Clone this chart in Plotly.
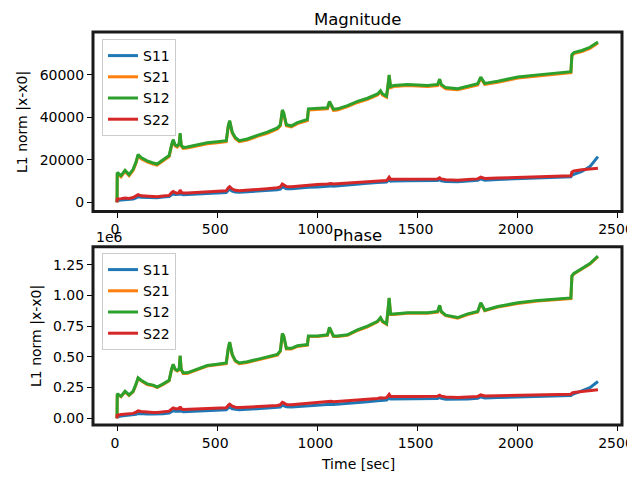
import plotly.graph_objects as go

# ---------------- data ----------------
time_sec = [0, 1, 20, 40, 60, 80, 95, 105, 120, 150, 180, 200, 230, 260, 272, 280, 290, 300, 310, 315,
            320, 330, 350, 400, 450, 500, 545, 555, 562, 575, 590, 610, 650, 700, 750, 800, 815, 825, 832, 845,
            870, 900, 950, 955, 1000, 1050, 1060, 1068, 1080, 1100, 1150, 1200, 1250, 1300, 1315, 1325, 1345, 1352, 1358, 1365,
            1380, 1450, 1500, 1550, 1600, 1610, 1618, 1640, 1700, 1750, 1800, 1815, 1822, 1835, 1900, 2000, 2100, 2200, 2265, 2270,
            2280, 2320, 2360, 2400]

mag_s11 = [0, 800, 1000, 1200, 1300, 1500, 2000, 2600, 2300, 2200, 2100, 2100, 2400, 2700, 3500, 3900, 3600, 3500, 3700, 4500,
           3800, 3500, 3600, 3900, 4200, 4400, 4600, 5600, 6000, 5200, 4800, 4700, 4900, 5200, 5600, 5900, 6200, 7300, 7000, 6400,
           6300, 6600, 6900, 7100, 7200, 7600, 7900, 7700, 7500, 7700, 8100, 8500, 8900, 9300, 9500, 9400, 9500, 10000, 10600, 9900,
           10000, 10100, 10100, 10100, 10200, 10600, 10100, 9800, 9700, 10000, 10300, 11000, 10700, 10400, 10700, 11000, 11400, 11800, 12000, 12800,
           13200, 14500, 16800, 21500]

mag_s21 = [0, 13500, 12000, 14500, 12500, 15000, 18500, 22000, 20500, 19000, 18000, 17500, 19500, 21500, 26500, 29000, 26500, 26000, 27000, 32000,
           26500, 25300, 25500, 26500, 27500, 28000, 28500, 35500, 38000, 32500, 30000, 28500, 29300, 31000, 32500, 34500, 36000, 43000, 41500, 36000,
           35500, 37000, 38500, 43500, 43700, 44000, 47000, 45500, 43300, 43500, 45000, 47000, 48500, 50500, 52000, 50500, 49500, 54500, 59500, 54000,
           54500, 55000, 54700, 54500, 55000, 57500, 55000, 53500, 53000, 54000, 55300, 58500, 57500, 55500, 56500, 58500, 59500, 60500, 61000, 69000,
           70000, 71000, 72500, 75000]

mag_s12 = [0, 14000, 12500, 15000, 13000, 15500, 19000, 22500, 21000, 19500, 18500, 18000, 20000, 22000, 27000, 29500, 27000, 26500, 27500, 32500,
           27000, 25800, 26000, 27000, 28000, 28500, 29000, 36000, 38500, 33000, 30500, 29000, 29800, 31500, 33000, 35000, 36500, 43500, 42000, 36500,
           36000, 37500, 39000, 44000, 44200, 44500, 47500, 46000, 43800, 44000, 45500, 47500, 49000, 51000, 52500, 51000, 50000, 55000, 60000, 54500,
           55000, 55500, 55200, 55000, 55500, 58000, 55500, 54000, 53500, 54500, 55800, 59000, 58000, 56000, 57000, 59000, 60000, 61000, 61500, 69500,
           70500, 71500, 73000, 75500]

mag_s22 = [0, 1500, 1700, 2000, 1800, 2200, 3000, 3600, 3000, 2800, 2600, 2600, 2900, 3200, 4500, 5000, 4500, 4300, 4500, 5800,
           4700, 4300, 4400, 4700, 5000, 5200, 5400, 6800, 7300, 6200, 5600, 5400, 5600, 6000, 6400, 6800, 7200, 8600, 8300, 7400,
           7300, 7600, 7900, 8200, 8300, 8600, 8900, 8800, 8600, 8700, 9000, 9300, 9600, 9900, 10100, 10000, 10200, 11000, 11800, 10800,
           10800, 10900, 10900, 10900, 11000, 11500, 11000, 10600, 10400, 10700, 11000, 11800, 11500, 11200, 11400, 11700, 12000, 12300, 12500, 14200,
           14700, 15300, 15800, 16000]

# phase values in units of 1e6
ph_s11 = [0, 0.012, 0.018, 0.022, 0.024, 0.027, 0.033, 0.04, 0.037, 0.035, 0.034, 0.034, 0.038, 0.043, 0.055, 0.062, 0.057, 0.055, 0.058, 0.07,
          0.058, 0.054, 0.055, 0.059, 0.063, 0.066, 0.069, 0.085, 0.092, 0.078, 0.072, 0.07, 0.073, 0.077, 0.082, 0.087, 0.091, 0.108, 0.103, 0.093,
          0.092, 0.096, 0.1, 0.103, 0.106, 0.112, 0.117, 0.114, 0.112, 0.114, 0.12, 0.127, 0.134, 0.142, 0.146, 0.145, 0.148, 0.158, 0.17, 0.157,
          0.157, 0.159, 0.16, 0.16, 0.162, 0.17, 0.162, 0.156, 0.154, 0.158, 0.163, 0.174, 0.17, 0.166, 0.169, 0.173, 0.178, 0.183, 0.186, 0.192,
          0.198, 0.22, 0.25, 0.30]

ph_s21 = [0, 0.195, 0.175, 0.215, 0.185, 0.215, 0.275, 0.325, 0.305, 0.275, 0.265, 0.25, 0.275, 0.305, 0.395, 0.435, 0.395, 0.385, 0.395, 0.505,
          0.395, 0.365, 0.365, 0.395, 0.425, 0.435, 0.445, 0.565, 0.615, 0.515, 0.465, 0.445, 0.455, 0.475, 0.495, 0.515, 0.545, 0.685, 0.665, 0.565,
          0.565, 0.585, 0.595, 0.665, 0.665, 0.675, 0.735, 0.705, 0.665, 0.665, 0.675, 0.715, 0.745, 0.785, 0.815, 0.785, 0.765, 0.875, 0.975, 0.845,
          0.845, 0.855, 0.855, 0.855, 0.865, 0.915, 0.865, 0.835, 0.815, 0.845, 0.865, 0.935, 0.915, 0.875, 0.905, 0.935, 0.955, 0.965, 0.975, 1.155,
          1.175, 1.215, 1.255, 1.315]

ph_s12 = [0, 0.2, 0.18, 0.22, 0.19, 0.22, 0.28, 0.33, 0.31, 0.28, 0.27, 0.255, 0.28, 0.31, 0.40, 0.44, 0.40, 0.39, 0.40, 0.51,
          0.40, 0.37, 0.37, 0.40, 0.43, 0.44, 0.45, 0.57, 0.62, 0.52, 0.47, 0.45, 0.46, 0.48, 0.50, 0.52, 0.55, 0.69, 0.67, 0.57,
          0.57, 0.59, 0.60, 0.67, 0.67, 0.68, 0.74, 0.71, 0.67, 0.67, 0.68, 0.72, 0.75, 0.79, 0.82, 0.79, 0.77, 0.88, 0.98, 0.85,
          0.85, 0.86, 0.86, 0.86, 0.87, 0.92, 0.87, 0.84, 0.82, 0.85, 0.87, 0.94, 0.92, 0.88, 0.91, 0.94, 0.96, 0.97, 0.98, 1.16,
          1.18, 1.22, 1.26, 1.32]

ph_s22 = [0, 0.025, 0.03, 0.035, 0.035, 0.04, 0.05, 0.06, 0.055, 0.05, 0.048, 0.048, 0.052, 0.058, 0.075, 0.085, 0.078, 0.075, 0.078, 0.095,
          0.078, 0.072, 0.073, 0.077, 0.08, 0.083, 0.086, 0.105, 0.115, 0.098, 0.09, 0.087, 0.09, 0.095, 0.1, 0.105, 0.11, 0.13, 0.125, 0.112,
          0.11, 0.115, 0.12, 0.125, 0.13, 0.135, 0.14, 0.138, 0.135, 0.137, 0.142, 0.148, 0.155, 0.162, 0.167, 0.165, 0.168, 0.18, 0.195, 0.178,
          0.177, 0.178, 0.178, 0.178, 0.18, 0.188, 0.18, 0.173, 0.17, 0.174, 0.178, 0.19, 0.186, 0.181, 0.183, 0.186, 0.189, 0.192, 0.195, 0.205,
          0.21, 0.218, 0.226, 0.232]

series_names = ["S11", "S21", "S12", "S22"]
series_colors = ["#1f77b4", "#ff7f0e", "#2ca02c", "#d62728"]
mag_series = [mag_s11, mag_s21, mag_s12, mag_s22]
ph_series = [ph_s11, ph_s21, ph_s12, ph_s22]

x_ticks = [0, 500, 1000, 1500, 2000, 2500]
mag_ticks = [0, 20000, 40000, 60000]
ph_ticks = [0.0, 0.25, 0.5, 0.75, 1.0, 1.25]

# ---------------- geometry ----------------
# the page body has an 8px margin, so the figure is placed at (8, 8) in the window
OFF = 8
VW, VH = 635, 477
W, H = VW - OFF, VH - OFF
AX_L, AX_R = 93, 622          # window pixel coords of axes frame
TOP_T, TOP_B = 32, 211.5
BOT_T, BOT_B = 246.7, 425
ML = AX_L - OFF
MR = VW - AX_R
MT = TOP_T - OFF
MB = VH - BOT_B
plot_w = W - ML - MR
plot_h = H - MT - MB


def xp(px):
    return (px - OFF - ML) / plot_w


def yp(py):
    return (H - MB - (py - OFF)) / plot_h


top_dom = [yp(TOP_B), 1.0]
bot_dom = [0.0, yp(BOT_T)]

FONT = "DejaVu Sans"
FS = 14
fig = go.Figure()

for name, col, vals in zip(series_names, series_colors, mag_series):
    fig.add_trace(go.Scatter(x=time_sec, y=vals, mode="lines", name=name,
                             line=dict(color=col, width=3), xaxis="x", yaxis="y",
                             legend="legend"))
for name, col, vals in zip(series_names, series_colors, ph_series):
    fig.add_trace(go.Scatter(x=time_sec, y=vals, mode="lines", name=name,
                             line=dict(color=col, width=3), xaxis="x2", yaxis="y2",
                             legend="legend2"))

axis_common = dict(showline=False, ticks="outside", ticklen=5, tickwidth=1, tickcolor="#000000",
                   showgrid=False, zeroline=False, automargin=False,
                   ticklabeloverflow="allow",
                   tickfont=dict(family=FONT, size=FS, color="black"))

legend_common = dict(xanchor="left", yanchor="top",
                     bgcolor="rgba(255,255,255,0.8)", bordercolor="#cccccc", borderwidth=1,
                     font=dict(family=FONT, size=FS, color="black"), tracegroupgap=0, itemwidth=30)

fig.update_layout(
    width=W, height=H,
    margin=dict(l=ML, r=MR, t=MT, b=MB, pad=0),
    paper_bgcolor="white", plot_bgcolor="white",
    font=dict(family=FONT, size=FS, color="black"),
    xaxis=dict(domain=[0, 1], anchor="y", range=[-120, 2520], tickvals=x_ticks,
               ticklabelshift=-2, **axis_common),
    yaxis=dict(domain=top_dom, anchor="x", range=[-4370, 80200], tickvals=mag_ticks,
               ticktext=[str(v) for v in mag_ticks], **axis_common),
    xaxis2=dict(domain=[0, 1], anchor="y2", range=[-120, 2520], tickvals=x_ticks,
                ticklabelshift=-2, **axis_common),
    yaxis2=dict(domain=bot_dom, anchor="x2", range=[-0.0546, 1.397], tickvals=ph_ticks,
                tickformat=".2f", **axis_common),
    legend=dict(x=xp(102), y=yp(39), **legend_common),
    legend2=dict(x=xp(102), y=yp(253), **legend_common),
    showlegend=True,
)

# axes frames drawn as rectangle outlines around each subplot domain
frames = []
for xr, yr in (("x domain", "y domain"), ("x2 domain", "y2 domain")):
    frames.append(dict(type="rect", xref=xr, yref=yr, x0=0, x1=1, y0=0, y1=1,
                       line=dict(color="#1a1a1a", width=3), layer="above"))
fig.update_layout(shapes=frames)

annots = [
    dict(text="Magnitude", x=xp(357.5), y=yp(8.5), xref="paper", yref="paper",
         showarrow=False, font=dict(family=FONT, size=16.5), xanchor="center", yanchor="top",
         borderpad=0),
    dict(text="Phase", x=xp(357.5), y=yp(235), xref="paper", yref="paper",
         showarrow=False, font=dict(family=FONT, size=16.5), xanchor="center", yanchor="middle"),
    dict(text="L1 norm |x-x0|", x=xp(22), y=yp(122), xref="paper", yref="paper",
         showarrow=False, textangle=-90, font=dict(family=FONT, size=FS), xanchor="center", yanchor="middle"),
    dict(text="L1 norm |x-x0|", x=xp(36), y=yp(336), xref="paper", yref="paper",
         showarrow=False, textangle=-90, font=dict(family=FONT, size=FS), xanchor="center", yanchor="middle"),
    dict(text="Time [sec]", x=xp(357.5), y=yp(464), xref="paper", yref="paper",
         showarrow=False, font=dict(family=FONT, size=FS), xanchor="center", yanchor="middle"),
    dict(text="1e6", x=xp(94), y=yp(237.5), xref="paper", yref="paper",
         showarrow=False, font=dict(family=FONT, size=FS), xanchor="left", yanchor="middle"),
]
fig.update_layout(annotations=annots)

fig.write_html("out.html")
